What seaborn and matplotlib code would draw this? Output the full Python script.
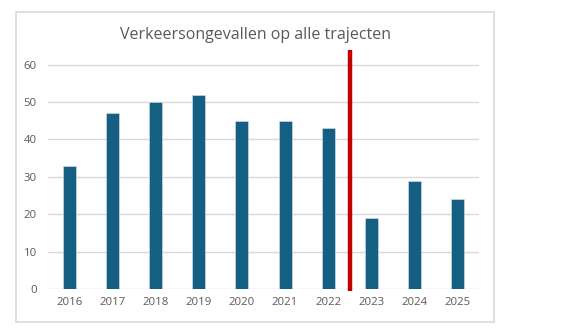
import matplotlib
matplotlib.use("Agg")
import matplotlib.pyplot as plt
import seaborn as sns
import pandas as pd
from matplotlib.patches import Rectangle

# Data
years = ["2016", "2017", "2018", "2019", "2020", "2021", "2022", "2023", "2024", "2025"]
accidents = [33, 47, 50, 52, 45, 45, 43, 19, 29, 24]
y_ticks = [0, 10, 20, 30, 40, 50, 60]
title = "Verkeersongevallen op alle trajecten"

# Marker line between 2022 and 2023
split_after = "2022"
split_top = 64

df = pd.DataFrame({"jaar": years, "ongevallen": accidents})

sns.set_theme(style="white")
plt.rcParams["font.family"] = ["Open Sans", "DejaVu Sans"]

fig = plt.figure(figsize=(5.68, 3.32), dpi=100)
fig.patch.set_facecolor("white")

# Chart area frame
fig.add_artist(Rectangle((16 / 568, 1 - 322 / 332), (494 - 16) / 568, (322 - 12) / 332,
                         transform=fig.transFigure, fill=False,
                         edgecolor="#d9d9d9", linewidth=1.2))

ax = fig.add_axes([48 / 568, 43 / 332, (479 - 48) / 568, 243 / 332])

sns.barplot(data=df, x="jaar", y="ongevallen", color="#156082", width=0.3,
            saturation=1, edgecolor="#dbe6ee", linewidth=0.4, ax=ax, zorder=3)

ax.set_xlim(-0.5, len(years) - 0.5)
ax.set_ylim(0, 65)
ax.set_yticks(y_ticks)
ax.grid(axis="y", color="#d9d9d9", linewidth=1.0, zorder=0)
ax.set_axisbelow(True)
for s in ax.spines.values():
    s.set_visible(False)
ax.tick_params(axis="both", length=0, labelsize=8.2, labelcolor="#595959")
ax.tick_params(axis="y", pad=8)
ax.tick_params(axis="x", pad=6)
ax.set_xlabel("")
ax.set_ylabel("")

split_x = years.index(split_after) + 0.5
ax.vlines(split_x, -0.5, split_top, color="#c00000", linewidth=3.2,
          zorder=4, clip_on=False)

fig.text(255 / 568, 1 - 35 / 332, title, ha="center", va="center",
         fontsize=11.5, color="#595959")

fig.savefig("out.png", dpi=100, facecolor="white")
